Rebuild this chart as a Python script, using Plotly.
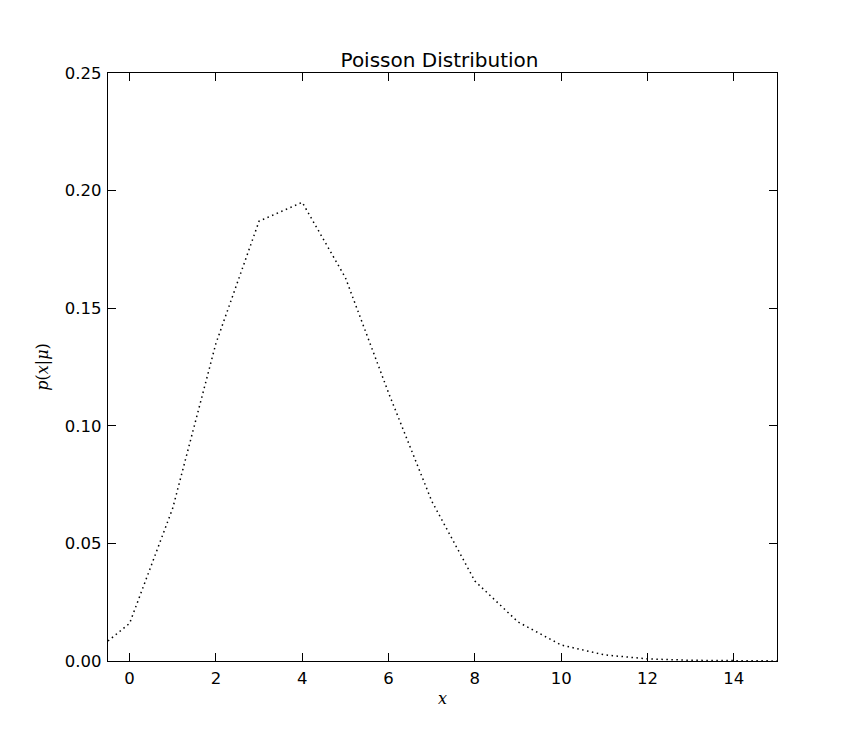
import plotly.graph_objects as go

# values
x_vals = [-0.5, 0, 1, 2, 3, 4, 5, 6, 7, 8, 9, 10, 11, 12, 13, 14, 15]
p_vals = [0.0085, 0.016, 0.065, 0.135, 0.187, 0.195, 0.163, 0.114, 0.068,
          0.034, 0.0166, 0.0068, 0.0026, 0.0009, 0.0003, 0.0001, 0.00003]
x_ticks = [0, 2, 4, 6, 8, 10, 12, 14]
y_ticks = [0.00, 0.05, 0.10, 0.15, 0.20, 0.25]

fig = go.Figure()
fig.add_trace(go.Scatter(
    x=x_vals, y=p_vals, mode="lines",
    line=dict(color="black", width=1.5, dash="1.5px,3.5px"),
    showlegend=False,
))

axis_common = dict(
    showgrid=False, zeroline=False, showline=True, linecolor="black",
    linewidth=1.2, mirror="allticks", ticks="inside", ticklen=8,
    tickwidth=1, tickcolor="black",
    tickfont=dict(family="DejaVu Sans", size=16.5, color="black"),
)

fig.update_layout(
    width=863, height=736,
    paper_bgcolor="white", plot_bgcolor="white",
    margin=dict(l=100, r=94, t=65, b=83),
    title=dict(text="Poisson Distribution", x=0.5, xanchor="center",
               y=1 - 52 / 736, yanchor="middle",
               font=dict(family="DejaVu Sans", size=20, color="black")),
    xaxis=dict(range=[-0.5, 15], tickvals=x_ticks, ticklabelstandoff=2,
               title=dict(text="<i>x</i>", standoff=5,
                          font=dict(family="DejaVu Serif", size=16, color="black")),
               **axis_common),
    yaxis=dict(range=[0, 0.25], tickvals=y_ticks, tickformat=".2f",
               ticklabelstandoff=2,
               title=dict(text="<i>p</i>(<i>x</i>|<i>μ</i>)", standoff=12,
                          font=dict(family="DejaVu Serif", size=16, color="black")),
               **axis_common),
)

fig.write_html("out.html")
